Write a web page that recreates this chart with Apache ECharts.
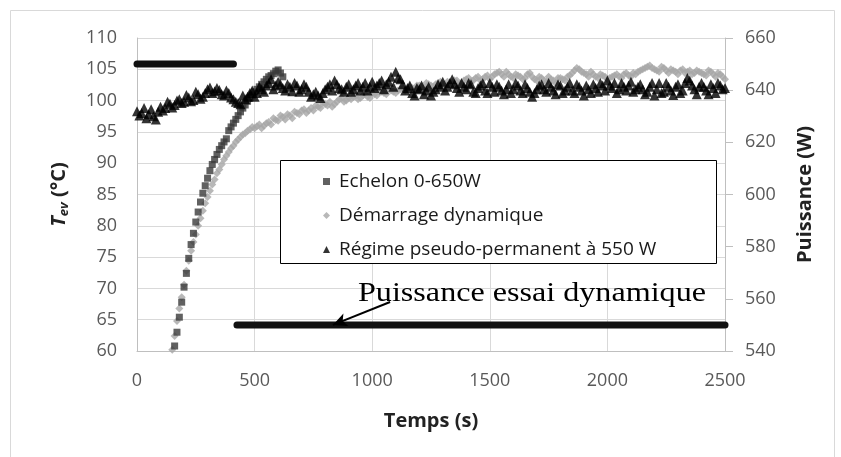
<!DOCTYPE html>
<html>
<head>
<meta charset="utf-8">
<script src="https://cdn.jsdelivr.net/npm/echarts@6/dist/echarts.min.js"></script>
<style>
html,body{margin:0;padding:0;background:#fff;}
#c{width:841px;height:457px;}
</style>
</head>
<body>
<div id="c"></div>
<script>
// ---- Data (time in s, temperature in °C, power in W) ----
const echelonData = [
[160,60.8],[170,63.0],[180,65.4],[190,67.8],[200,70.2],[210,72.4],[220,74.8],[230,77.0],[240,78.8],[250,80.6],
[260,82.2],[270,83.8],[280,85.2],[290,86.4],[300,87.6],[310,88.8],[320,89.8],[330,90.6],[340,91.4],[350,92.2],
[360,92.8],[370,93.4],[380,93.9],[390,95.2],[400,95.8],[410,96.4],[420,97.0],[430,97.6],[440,98.2],[450,98.8],
[460,99.3],[470,99.9],[480,100.4],[490,100.9],[500,101.4],[510,101.8],[520,102.2],[530,102.6],[540,103.0],[550,103.4],
[560,103.8],[570,104.0],[580,104.3],[590,104.7],[600,104.9],[610,104.4],[620,103.8]
];
const demarrageData = [
[150,60.2],[160,62.4],[170,64.8],[180,66.8],[190,68.6],[200,70.6],[210,72.8],[220,74.4],[230,76.0],[240,77.4],
[250,78.6],[260,80.0],[270,81.2],[280,82.4],[290,83.6],[300,84.6],[310,85.6],[320,86.6],[330,87.4],[340,88.4],
[350,89.0],[360,89.8],[370,90.6],[380,91.2],[390,91.8],[400,92.4],[410,92.8],[420,93.4],[430,93.8],[440,94.2],
[450,94.6],[460,94.8],[470,95.2],[480,95.4],[490,95.8],[500,95.6],[520,96.2],[540,96.0],[560,96.6],[580,97.2],
[600,96.8],[620,97.4],[640,97.8],[660,97.2],[680,98.0],[700,98.4],[720,98.0],[740,98.8],[760,99.2],[780,98.8],
[800,99.4],[820,99.8],[840,99.4],[860,100.2],[880,99.8],[900,100.4],[920,100.6],[940,100.2],[960,100.8],[980,100.6],
[1000,101.2],[1020,100.8],[1040,101.4],[1060,101.0],[1080,101.6],[1100,101.2],[1120,101.8],[1140,101.6],[1160,102.2],[1180,101.8],
[1200,102.4],[1220,102.0],[1240,102.6],[1260,102.2],[1280,102.8],[1300,102.4],[1320,103.0],[1340,102.6],[1360,103.2],[1380,102.8],
[1400,103.4],[1420,103.0],[1440,103.6],[1460,103.2],[1480,103.8],[1500,103.4],[1520,104.2],[1540,104.6],[1560,103.8],[1580,104.2],
[1600,103.6],[1620,104.0],[1640,103.4],[1660,104.2],[1680,103.8],[1700,103.2],[1720,103.6],[1740,103.0],[1760,103.4],[1780,102.8],
[1800,103.6],[1820,103.2],[1840,104.0],[1860,104.8],[1880,105.0],[1900,104.4],[1920,103.8],[1940,104.2],[1960,103.6],[1980,104.0],
[2000,103.4],[2020,103.8],[2040,104.2],[2060,103.6],[2080,104.4],[2100,103.8],[2120,104.2],[2140,104.8],[2160,105.2],[2180,105.6],
[2200,105.0],[2220,104.6],[2240,105.2],[2260,104.4],[2280,104.8],[2300,104.2],[2320,105.0],[2340,104.6],[2360,104.2],[2380,104.8],
[2400,104.4],[2420,104.0],[2440,104.6],[2460,103.8],[2480,104.2],[2500,103.4]
];
const demarrageDataB = [
[510,95.9],[530,95.6],[550,96.4],[570,96.2],[590,96.9],[610,97.6],[630,97.0],[650,97.6],[670,98.2],[690,97.8],
[710,98.6],[730,98.4],[750,98.4],[770,99.0],[790,99.6],[810,99.2],[830,99.0],[850,99.8],[870,100.4],[890,100.0],
[910,100.2],[930,100.8],[950,100.4],[970,101.0],[990,100.4],[1010,101.0],[1030,101.4],[1050,101.2],[1070,101.8],[1090,101.4],
[1110,101.6],[1130,102.0],[1150,101.8],[1170,102.0],[1190,102.4],[1210,102.2],[1230,102.8],[1250,102.4],[1270,102.6],[1290,103.0],
[1310,102.6],[1330,102.8],[1350,103.2],[1370,102.6],[1390,103.2],[1410,103.6],[1430,103.2],[1450,103.8],[1470,103.4],[1490,104.0],
[1510,103.8],[1530,104.4],[1550,104.2],[1570,104.6],[1590,103.8],[1610,104.2],[1630,103.8],[1650,103.6],[1670,104.4],[1690,103.4],
[1710,103.8],[1730,103.2],[1750,103.8],[1770,103.2],[1790,103.6],[1810,103.4],[1830,103.8],[1850,104.4],[1870,105.2],[1890,104.6],
[1910,104.2],[1930,104.6],[1950,103.8],[1970,104.2],[1990,103.8],[2010,103.6],[2030,104.0],[2050,103.8],[2070,104.2],[2090,104.0],
[2110,104.4],[2130,104.6],[2150,105.0],[2170,105.4],[2190,105.2],[2210,104.8],[2230,105.4],[2250,104.8],[2270,105.0],[2290,104.6],
[2310,104.8],[2330,104.4],[2350,104.8],[2370,104.4],[2390,104.6],[2410,104.2],[2430,104.8],[2450,104.2],[2470,104.4],[2490,103.8]
];
const regimeData = [
[0,98.3],[20,98.0],[40,97.2],[60,98.6],[80,97.0],[100,99.0],[120,98.8],[140,99.5],[160,99.3],[180,100.2],
[200,99.8],[220,100.5],[240,100.1],[260,101.0],[280,100.6],[300,101.8],[320,101.2],[340,102.0],[360,101.0],[380,101.6],
[400,100.5],[420,99.8],[440,99.4],[460,100.2],[480,101.2],[500,100.6],[520,102.2],[540,101.4],[560,102.8],[580,101.8],
[600,103.0],[620,102.0],[640,102.6],[660,101.5],[680,102.4],[700,101.8],[720,102.2],[740,100.6],[760,101.4],[780,100.4],
[800,101.8],[820,102.6],[840,103.2],[860,102.0],[880,101.4],[900,102.6],[920,101.8],[940,102.8],[960,102.2],[980,101.6],
[1000,103.0],[1020,102.4],[1040,103.2],[1060,102.6],[1080,103.8],[1100,104.6],[1120,103.4],[1140,101.6],[1160,102.4],[1180,100.8],
[1200,101.8],[1220,101.0],[1240,102.2],[1260,101.4],[1280,102.6],[1300,103.0],[1320,102.2],[1340,103.4],[1360,102.0],[1380,102.8],
[1400,101.8],[1420,102.6],[1440,101.2],[1460,102.4],[1480,101.6],[1500,102.8],[1520,101.4],[1540,102.2],[1560,101.0],[1580,102.6],
[1600,101.8],[1620,102.4],[1640,101.2],[1660,102.0],[1680,100.6],[1700,101.8],[1720,102.6],[1740,101.4],[1760,102.2],[1780,101.0],
[1800,102.4],[1820,101.6],[1840,102.8],[1860,101.2],[1880,102.2],[1900,100.8],[1920,101.8],[1940,102.6],[1960,101.4],[1980,102.4],
[2000,103.2],[2020,102.0],[2040,101.2],[2060,102.8],[2080,101.6],[2100,103.0],[2120,101.8],[2140,102.6],[2160,101.0],[2180,102.2],
[2200,100.8],[2220,102.8],[2240,101.4],[2260,102.2],[2280,100.9],[2300,102.6],[2320,101.6],[2340,103.6],[2360,102.4],[2380,101.0],
[2400,102.8],[2420,101.6],[2440,102.6],[2460,101.2],[2480,102.4],[2500,102.0]
];
const regimeDataB = [
[10,97.6],[30,98.8],[50,97.8],[70,97.5],[90,98.2],[110,98.4],[130,99.8],[150,98.9],[170,100.0],[190,99.6],
[210,100.9],[230,99.9],[250,101.4],[270,100.3],[290,101.2],[310,102.1],[330,101.5],[350,101.7],[370,100.8],[390,101.2],
[410,100.2],[430,99.6],[450,100.8],[470,100.6],[490,101.6],[510,101.2],[530,101.8],[550,102.4],[570,103.4],[590,102.4],
[610,102.6],[630,101.6],[650,102.2],[670,102.8],[690,101.4],[710,102.6],[730,101.4],[750,101.0],[770,100.8],[790,101.2],
[810,102.2],[830,101.6],[850,102.6],[870,101.8],[890,102.2],[910,101.4],[930,102.4],[950,101.6],[970,102.8],[990,102.2],
[1010,102.0],[1030,102.8],[1050,101.8],[1070,103.0],[1090,102.2],[1110,103.6],[1130,102.6],[1150,102.0],[1170,101.2],[1190,102.0],
[1210,102.4],[1230,101.6],[1250,100.8],[1270,101.8],[1290,102.2],[1310,101.6],[1330,102.8],[1350,102.6],[1370,101.4],[1390,102.2],
[1410,102.8],[1430,101.4],[1450,102.0],[1470,102.8],[1490,101.2],[1510,102.2],[1530,102.6],[1550,101.6],[1570,101.8],[1590,101.2],
[1610,102.8],[1630,101.6],[1650,102.6],[1670,101.4],[1690,101.2],[1710,102.4],[1730,101.8],[1750,102.8],[1770,101.6],[1790,102.6],
[1810,101.2],[1830,102.2],[1850,101.6],[1870,102.6],[1890,101.6],[1910,102.4],[1930,101.2],[1950,102.0],[1970,102.8],[1990,101.6],
[2010,102.4],[2030,102.8],[2050,101.8],[2070,102.2],[2090,102.4],[2110,101.4],[2130,102.2],[2150,101.8],[2170,101.4],[2190,102.8],
[2210,101.8],[2230,101.2],[2250,102.8],[2270,101.6],[2290,102.2],[2310,101.2],[2330,102.8],[2350,103.2],[2370,101.8],[2390,102.2],
[2410,102.2],[2430,101.0],[2450,102.0],[2470,102.8],[2490,101.8]
];
const powerStepTime = [0, 410];
const powerStepValue = [650, 650];
const powerDynTime = [425, 2500];
const powerDynValue = [550, 550];

const seriesNames = ['Echelon 0-650W', 'Démarrage dynamique', 'Régime pseudo-permanent à 550 W'];
const xTicks = { min: 0, max: 2500, interval: 500 };
const yLeftTicks = { min: 60, max: 110, interval: 5 };
const yRightTicks = { min: 540, max: 660, interval: 20 };

// ---- Chart ----
const zip = (a, b) => a.map((v, i) => [v, b[i]]);
const chart = echarts.init(document.getElementById('c'), null, { renderer: 'canvas' });
const labelFont = "'Open Sans', 'Noto Sans', sans-serif";
const plain = v => String(v);
const option = {
  animation: false,
  backgroundColor: '#ffffff',
  grid: { left: 137, right: 116, top: 38, bottom: 106, containLabel: false },
  legend: {
    data: seriesNames,
    orient: 'vertical',
    left: 318,
    top: 167,
    z: 10,
    itemGap: 15,
    itemWidth: 7,
    itemHeight: 7,
    textStyle: { fontFamily: labelFont, fontSize: 19, color: '#1a1a1a', padding: [0, 0, 0, 4] }
  },
  xAxis: {
    type: 'value', min: xTicks.min, max: xTicks.max, interval: xTicks.interval,
    name: 'Temps (s)', nameLocation: 'middle', nameGap: 60,
    nameTextStyle: { fontFamily: labelFont, fontSize: 20, fontWeight: 'bold', color: '#222' },
    axisLine: { show: true, lineStyle: { color: '#bfbfbf', width: 1 } },
    axisTick: { show: false },
    axisLabel: { margin: 21, fontFamily: labelFont, fontSize: 18, color: '#595959', formatter: plain },
    splitLine: { show: true, lineStyle: { color: '#d9d9d9', width: 1 } }
  },
  yAxis: [
    {
      type: 'value', min: yLeftTicks.min, max: yLeftTicks.max, interval: yLeftTicks.interval,
      position: 'left',
      name: '{t|T}{s|ev}{n| (°C)}', nameLocation: 'middle', nameGap: 66, nameRotate: 90,
      nameTextStyle: {
        color: '#222',
        rich: {
          t: { fontFamily: labelFont, fontSize: 20, fontWeight: 'bold', fontStyle: 'italic', color: '#222' },
          s: { fontFamily: labelFont, fontSize: 13, fontWeight: 'bold', fontStyle: 'italic', color: '#222', verticalAlign: 'bottom', padding: [10, 0, 0, 0] },
          n: { fontFamily: labelFont, fontSize: 20, fontWeight: 'bold', color: '#222' }
        }
      },
      axisLine: { show: true, lineStyle: { color: '#bfbfbf', width: 1 } },
      axisTick: { show: false },
      axisLabel: { margin: 20, fontFamily: labelFont, fontSize: 18, color: '#595959', formatter: plain },
      splitLine: { show: true, lineStyle: { color: '#d9d9d9', width: 1 } }
    },
    {
      type: 'value', min: yRightTicks.min, max: yRightTicks.max, interval: yRightTicks.interval,
      position: 'right',
      name: 'Puissance (W)', nameLocation: 'middle', nameGap: 70, nameRotate: 90,
      nameTextStyle: { fontFamily: labelFont, fontSize: 20, fontWeight: 'bold', color: '#222' },
      axisLine: { show: true, lineStyle: { color: '#bfbfbf', width: 1 } },
      axisTick: { show: true, length: 8, inside: false, lineStyle: { color: '#bfbfbf' } },
      axisLabel: { margin: 20, fontFamily: labelFont, fontSize: 18, color: '#595959', formatter: plain },
      splitLine: { show: false }
    }
  ],
  series: [
    {
      name: seriesNames[1], type: 'scatter', yAxisIndex: 0,
      symbol: 'diamond', symbolSize: 8,
      itemStyle: { color: '#a6a6a6' },
      data: demarrageData.concat(demarrageDataB)
    },
    {
      name: seriesNames[0], type: 'scatter', yAxisIndex: 0,
      symbol: 'rect', symbolSize: 7,
      itemStyle: { color: '#3a3a3a' },
      data: echelonData
    },
    {
      name: seriesNames[2], type: 'scatter', yAxisIndex: 0,
      symbol: 'triangle', symbolSize: 10,
      itemStyle: { color: '#000000' },
      data: regimeData.concat(regimeDataB)
    },
    {
      name: 'Puissance échelon', type: 'line', yAxisIndex: 1,
      showSymbol: false, symbol: 'none', clip: false,
      lineStyle: { color: '#111111', width: 7, cap: 'round' },
      data: zip(powerStepTime, powerStepValue)
    },
    {
      name: 'Puissance essai dynamique', type: 'line', yAxisIndex: 1,
      showSymbol: false, symbol: 'none', clip: false,
      lineStyle: { color: '#111111', width: 7, cap: 'round' },
      data: zip(powerDynTime, powerDynValue),
      markLine: {
        silent: true, animation: false,
        symbol: ['none', 'arrow'], symbolSize: [10, 14],
        label: { show: false },
        lineStyle: { color: '#000000', width: 2, type: 'solid' },
        data: [[{ coord: [1076, 558.8] }, { coord: [833, 550] }]]
      }
    }
  ],
  graphic: [
    {
      type: 'rect', z: -10, silent: true,
      shape: { x: 10.5, y: 10.5, width: 824, height: 470 },
      style: { fill: 'none', stroke: '#d9d9d9', lineWidth: 1 }
    },
    {
      type: 'rect', z: 3, silent: true,
      shape: { x: 280.5, y: 160.5, width: 436, height: 103 },
      style: { fill: '#ffffff', stroke: '#000000', lineWidth: 1 }
    },
    {
      type: 'text', z: 10, silent: true,
      x: 358, y: 294, scaleX: 1.19,
      style: {
        text: 'Puissance essai dynamique',
        font: "27px 'Liberation Serif', 'Times New Roman', serif",
        fill: '#000000',
        verticalAlign: 'middle'
      }
    }
  ]
};
chart.setOption(option);
</script>
</body>
</html>
